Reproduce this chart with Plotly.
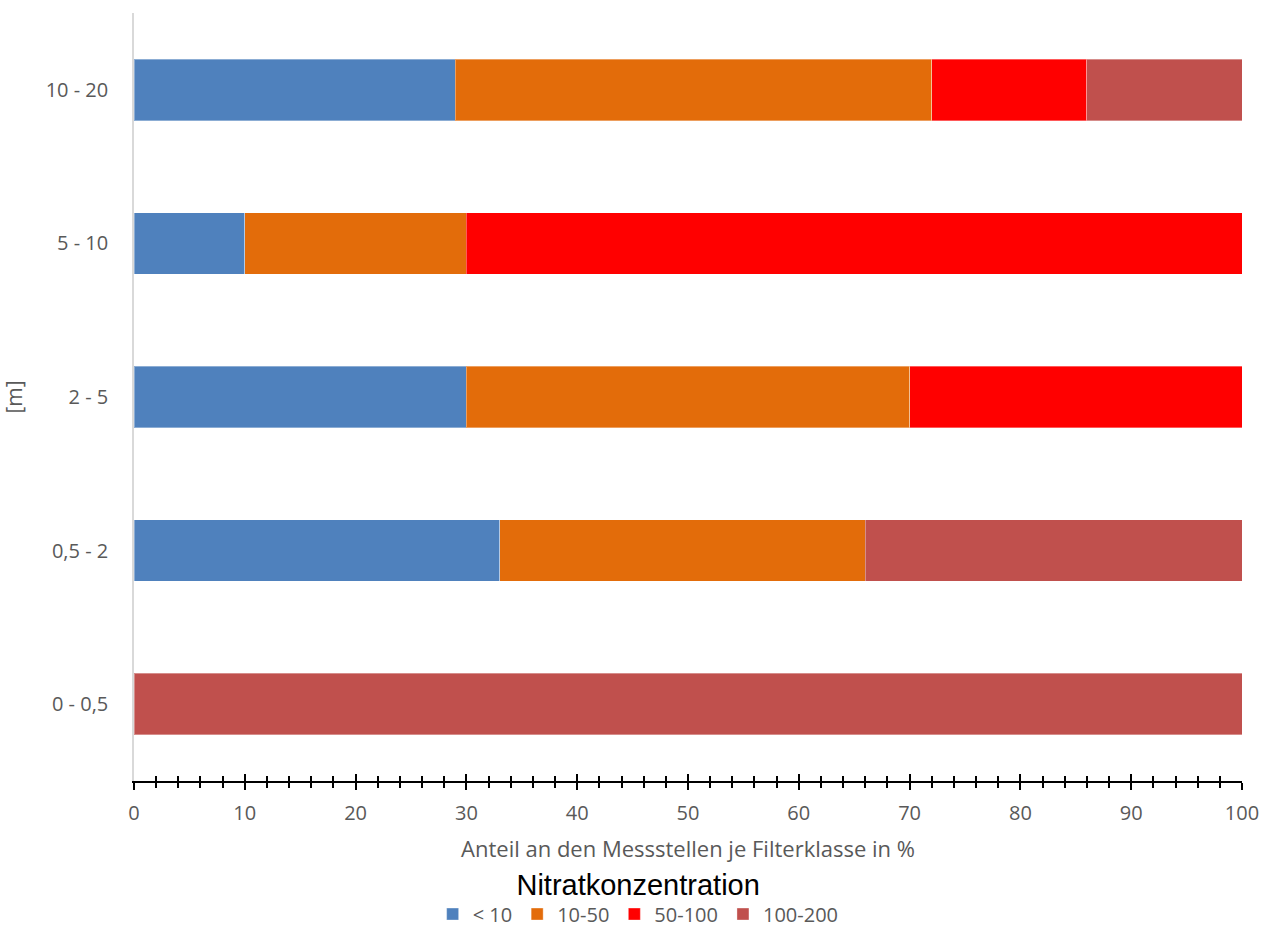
import plotly.graph_objects as go

categories = ["0 - 0,5", "0,5 - 2", "2 - 5", "5 - 10", "10 - 20"]
series_names = ["< 10", "10-50", "50-100", "100-200"]
lt10 = [0, 33, 30, 10, 29]
s10_50 = [0, 33, 40, 20, 43]
s50_100 = [0, 0, 30, 70, 14]
s100_200 = [100, 34, 0, 0, 14]
colors = ["#4F81BD", "#E36C0A", "#FF0000", "#C0504D"]

values = [lt10, s10_50, s50_100, s100_200]

GRAY = "#595959"
FONT = "Open Sans"

fig = go.Figure()
for name, vals, col in zip(series_names, values, colors):
    fig.add_trace(go.Bar(
        y=categories, x=vals, name=name, orientation="h",
        marker=dict(color=col, line=dict(color="rgba(255,255,255,0.35)", width=1)),
        width=0.4,
    ))

# invisible trace to anchor the overlay axis (inside ticks -> crossing ticks)
fig.add_trace(go.Scatter(x=[None], y=[None], xaxis="x2", showlegend=False,
                         hoverinfo="skip", mode="markers"))

fig.update_layout(
    barmode="stack",
    width=1261, height=931,
    margin=dict(l=134, r=19, t=13, b=150, autoexpand=False),
    plot_bgcolor="white", paper_bgcolor="white",
    font=dict(family=FONT, color=GRAY, size=20),
    xaxis=dict(
        range=[0, 100], dtick=10, tick0=0,
        showgrid=False, zeroline=False,
        showline=True, linecolor="black", linewidth=2,
        ticks="outside", ticklen=7, tickwidth=2, tickcolor="black",
        minor=dict(dtick=2, ticks="outside", ticklen=5, tickwidth=2, tickcolor="black"),
        tickfont=dict(size=20, color=GRAY, family=FONT),
        ticklabelstandoff=6,
        automargin=False,
        title=dict(text="Anteil an den Messstellen je Filterklasse in %",
                   font=dict(size=22, color=GRAY, family=FONT), standoff=17),
    ),
    xaxis2=dict(
        overlaying="x", anchor="y", side="bottom",
        range=[0, 100], dtick=10, tick0=0,
        showgrid=False, zeroline=False, showline=False,
        ticks="inside", ticklen=7, tickwidth=2, tickcolor="black",
        minor=dict(dtick=2, ticks="inside", ticklen=5, tickwidth=2, tickcolor="black"),
        showticklabels=False, automargin=False,
    ),
    yaxis=dict(
        categoryorder="array", categoryarray=categories,
        range=[-0.5, 4.5],
        showgrid=False, zeroline=False,
        showline=True, linecolor="#D9D9D9", linewidth=1.5,
        ticks="", tickfont=dict(size=20, color=GRAY, family=FONT),
        ticklabelstandoff=20, automargin=False,
        title=dict(text="[m]", font=dict(size=21, color=GRAY, family=FONT), standoff=28),
    ),
    legend=dict(
        orientation="h", xref="paper", x=0.455, xanchor="center",
        yref="paper", y=-0.199, yanchor="bottom",
        title=dict(text="Nitratkonzentration", side="top center",
                   font=dict(family="Liberation Sans", size=29, color="black")),
        font=dict(size=20, color=GRAY, family=FONT),
        itemwidth=30, traceorder="normal",
        tracegroupgap=0,
    ),
    bargap=0.6,
)

fig.write_html(
    "out.html",
    config={"displayModeBar": False},
    post_script="document.body.style.margin='0';document.body.style.overflow='hidden';",
)
